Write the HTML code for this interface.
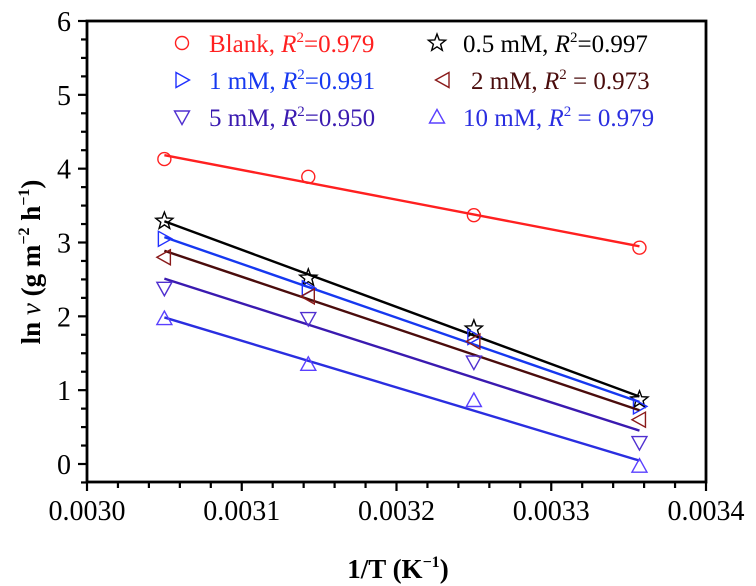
<!DOCTYPE html>
<html><head><meta charset="utf-8"><style>
body{margin:0;background:#fff}
svg{display:block;font-family:"Liberation Serif",serif}
</style></head><body>
<svg id="chart" width="756" height="586">
<g id="plot"></g>
</svg>
<script>
const xs = [0.003050, 0.003143, 0.003250, 0.003357];
const seriesNames = ["Blank","0.5 mM","1 mM","2 mM","5 mM","10 mM"];
const blank = [4.13, 3.89, 3.37, 2.93];
const mM05 = [3.29, 2.52, 1.83, 0.87];
const mM1 = [3.05, 2.38, 1.72, 0.78];
const mM2 = [2.80, 2.27, 1.66, 0.60];
const mM5 = [2.38, 1.97, 1.38, 0.29];
const mM10 = [1.97, 1.35, 0.86, -0.03];
const r2 = ["0.979","0.997","0.991","0.973","0.950","0.979"];
const xTicks = ["0.0030","0.0031","0.0032","0.0033","0.0034"];
const yTicks = ["0","1","2","3","4","5","6"];

const L=87,R=706,T=21,B=482, xMin=0.0030,xMax=0.0034,yMin=-0.25,yMax=6;
const X=v=>L+(v-xMin)/(xMax-xMin)*(R-L);
const Y=v=>464-(v)*(464-T)/6;
const NS="http://www.w3.org/2000/svg";
const g=document.getElementById('plot');
function mk(t,a,p){const e=document.createElementNS(NS,t);for(const k in a)e.setAttribute(k,a[k]);(p||g).appendChild(e);return e;}

const data=[blank,mM05,mM1,mM2,mM5,mM10];
const lineCol=["#ff2020","#000","#1638f0","#4a0c0c","#3a1ab0","#2a2ee0"];
const mkCol=["#ff2020","#000","#2030ff","#8a1a1a","#5030d0","#5a40ff"];
const shapes=["circle","star","right","left","down","up"];

function marker(s,cx,cy,c){
  let e;
  if(s==="circle") e=mk('circle',{cx,cy,r:6.5,fill:'none',stroke:c,'stroke-width':1.4});
  else if(s==="star"){let p=[];for(let i=0;i<10;i++){const r=i%2?3.8:9,a=-Math.PI/2+i*Math.PI/5;p.push((cx+r*Math.cos(a)).toFixed(1)+','+(cy+r*Math.sin(a)).toFixed(1));}
    e=mk('polygon',{points:p.join(' '),fill:'none',stroke:c,'stroke-width':1.4});}
  else{const d=7.5;let pts;
    if(s==="right")pts=[[cx-d*0.8,cy-d],[cx+d,cy],[cx-d*0.8,cy+d]];
    if(s==="left")pts=[[cx+d*0.8,cy-d],[cx-d,cy],[cx+d*0.8,cy+d]];
    if(s==="down")pts=[[cx-d,cy-d*0.8],[cx+d,cy-d*0.8],[cx,cy+d]];
    if(s==="up")pts=[[cx-d,cy+d*0.8],[cx+d,cy+d*0.8],[cx,cy-d]];
    e=mk('polygon',{points:pts.map(p=>p.join(',')).join(' '),fill:'none',stroke:c,'stroke-width':1.4});}
  return e;
}

const frame=mk('rect',{x:L,y:T,width:R-L,height:B-T,fill:'none',stroke:'#000','stroke-width':2.8});



for(let i=0;i<=20;i++){const v=xMin+i*0.00002,px=X(v),major=i%5===0;
  mk('line',{x1:px,x2:px,y1:B,y2:B+(major?9:6),stroke:'#000','stroke-width':2.2});}
xTicks.forEach(t=>{const e=mk('text',{x:X(+t),y:B+38,'text-anchor':'middle','font-size':28});e.textContent=t;
  
  });
for(let v=-0.25;v<=6.001;v+=0.25){const py=Y(v),major=Math.abs(v-Math.round(v))<1e-6;
  mk('line',{x1:L,x2:L-(major?9:6),y1:py,y2:py,stroke:'#000','stroke-width':2.2});}
yTicks.forEach(t=>{const e=mk('text',{x:L-16,y:Y(+t)+10,'text-anchor':'end','font-size':28});e.textContent=t;
  
  });

data.forEach((ys,si)=>{
  const n=xs.length,mx=xs.reduce((a,b)=>a+b)/n,my=ys.reduce((a,b)=>a+b)/n;
  let sxy=0,sxx=0;xs.forEach((x,i)=>{sxy+=(x-mx)*(ys[i]-my);sxx+=(x-mx)**2;});
  const b=sxy/sxx,a=my-b*mx,x0=xs[0],x1=xs[n-1];
  const ln=mk('line',{x1:X(x0),y1:Y(a+b*x0),x2:X(x1),y2:Y(a+b*x1),stroke:lineCol[si],'stroke-width':2.4});
  
  
  xs.forEach((x,i)=>{const m=marker(shapes[si],X(x),Y(ys[i]),mkCol[si]);
    
    });
});

const legPos=[[182,43,209],[437,43,463],[182,80,209],[443,80,471],[182,117,209],[437,117,463]];
const eqSpace=[false,false,false,true,false,true];
[0,1,2,3,4,5].forEach(si=>{const [mx,my,tx]=legPos[si];
  const m=marker(shapes[si],mx,my,mkCol[si]);
  
  
  const t=mk('text',{x:tx,y:my+9,'font-size':25,fill:lineCol[si]});
  
  
  t.innerHTML=seriesNames[si]+', <tspan font-style="italic">R</tspan><tspan font-size="15" dy="-10">2</tspan><tspan dy="10">'+(eqSpace[si]?' = ':'=')+r2[si]+'</tspan>';
});

const xt=mk('text',{x:398,y:578,'text-anchor':'middle','font-size':27,'font-weight':'bold'});
xt.innerHTML='1/T (K<tspan font-size="16" dy="-11">−1</tspan><tspan dy="11">)</tspan>';


const yt=mk('text',{x:0,y:0,'text-anchor':'middle','font-size':27,'font-weight':'bold',transform:'translate(40,262) rotate(-90)'});
yt.innerHTML='ln <tspan font-style="italic" font-weight="normal">v</tspan> (g m<tspan font-size="16" dy="-11">−2</tspan><tspan dy="11"> h</tspan><tspan font-size="16" dy="-11">−1</tspan><tspan dy="11">)</tspan>';


</script>
</body></html>
